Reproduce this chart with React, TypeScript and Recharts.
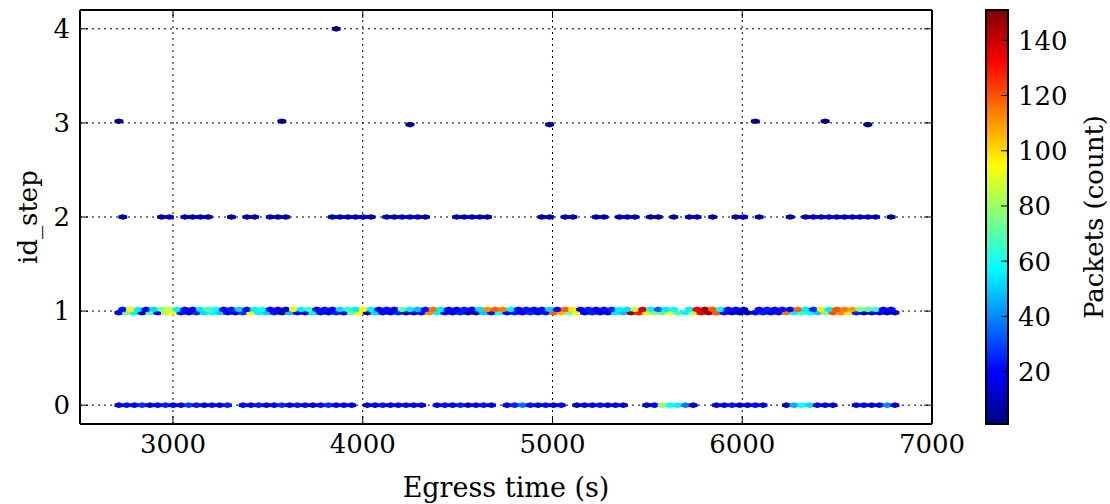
import React from "react";
import { ScatterChart, Scatter, XAxis, YAxis, ReferenceLine } from "recharts";

// hexbin lattice (gridsize 100 over the egress-time range, 57 rows over id_step)
const X_MIN = 2715;
const BIN_W = 40.9;
const BIN_H = 4 / 57;

const X_DOMAIN = [2510, 7000];
const Y_DOMAIN = [-0.2, 4.2];
const X_TICKS = [3000, 4000, 5000, 6000, 7000];
const Y_TICKS = [0, 1, 2, 3, 4];
const CBAR_TICKS = [20, 40, 60, 80, 100, 120, 140];
const C_MIN = 1;
const C_MAX = 151;

// counts per bin, 0 = empty
// id_step 0 (main lattice, row 0)
const step0 = [
  14, 22, 18, 26, 12, 20, 24, 16, 19, 28, 22, 15, 21, 18, 24, 0,
  20, 17, 23, 14, 19, 25, 16, 22, 18, 13, 21, 26, 17, 20, 15, 0,
  12, 18, 22, 16, 20, 14, 19, 17, 0,
  15, 21, 17, 24, 13, 19, 22, 16, 0,
  18, 24, 36, 22, 15, 20, 12, 17, 0,
  10, 14, 19, 22, 16, 18, 13, 0, 0,
  12, 16, 80, 58, 55, 38, 15, 0, 0,
  14, 18, 22, 12, 16, 20, 15, 0, 0,
  10, 45, 58, 52, 20, 16, 14, 0, 0,
  16, 20, 14, 18, 40, 12,
];

// id_step 1, lower half-row (main lattice, row 14)
const step1Low = [
  18, 75, 55, 8, 72, 20, 85, 95, 22, 18,
  25, 52, 58, 50, 20, 16, 28, 96, 55, 50,
  22, 9, 48, 20, 18, 55, 22, 16, 24, 19,
  74, 94, 9, 52, 21, 17, 25, 8, 10, 22,
  112, 56, 20, 18, 24, 9, 8, 50, 22, 60,
  20, 23, 17, 26, 19, 22, 118, 106, 74, 96,
  20, 24, 18, 15, 54, 48, 148, 130, 98, 78,
  70, 94, 68, 56, 86, 136, 146, 120, 22, 9,
  8, 10, 20, 24, 18, 22, 116, 55, 66, 58,
  50, 76, 120, 112, 98, 24, 8, 10, 20, 9,
  11,
];

// id_step 1, upper half-row (offset lattice, row 14)
const step1High = [
  22, 96, 55, 20, 52, 76, 88, 56, 21, 18,
  54, 68, 58, 20, 24, 50, 22, 55, 60, 20,
  17, 10, 97, 55, 66, 20, 23, 18, 52, 64,
  55, 95, 56, 20, 22, 18, 72, 55, 48, 22,
  116, 54, 20, 18, 24, 21, 52, 112, 118, 114,
  56, 20, 23, 18, 22, 50, 20, 118, 98, 20,
  24, 19, 22, 26, 55, 52, 86, 138, 56, 34,
  54, 58, 0, 55, 134, 146, 120, 56, 22, 20,
  9, 0, 20, 24, 18, 22, 20, 118, 55, 26,
  98, 54, 120, 114, 110, 76, 70, 68, 20, 18,
];

// id_step 2 (offset lattice, row 28)
const step2 = [
  6, 0, 0, 0, 0, 8, 10, 0, 9, 7,
  11, 8, 0, 0, 6, 0, 9, 7, 0, 8,
  10, 7, 0, 0, 0, 0, 0, 9, 11, 8,
  10, 12, 7, 0, 8, 10, 9, 12, 8, 7,
  0, 0, 0, 9, 8, 11, 10, 7, 0, 0,
  0, 0, 0, 0, 8, 10, 0, 9, 7, 0,
  0, 8, 9, 0, 10, 12, 8, 0, 9, 7,
  0, 6, 0, 8, 9, 0, 6, 0, 0, 8,
  10, 0, 5, 0, 0, 0, 6, 0, 9, 11,
  10, 13, 12, 9, 11, 10, 12, 8, 0, 6,
];

// sparse bins: [bin, count]
const step3High = [[0, 2], [21, 2], [82, 3], [91, 2]];
const step3Low = [[37, 2], [55, 2], [96, 2]];
const step4 = [[28, 2]];

type Cell = { x: number; y: number; c: number };

function denseCells(counts: number[], row: number, offset: number): Cell[] {
  const out: Cell[] = [];
  counts.forEach((c, i) => {
    if (c > 0) out.push({ x: X_MIN + (i + offset) * BIN_W, y: (row + offset) * BIN_H, c });
  });
  return out;
}

function sparseCells(pairs: number[][], row: number, offset: number): Cell[] {
  return pairs.map(([i, c]) => ({ x: X_MIN + (i + offset) * BIN_W, y: (row + offset) * BIN_H, c }));
}

const cells: Cell[] = [
  ...denseCells(step0, 0, 0),
  ...denseCells(step1Low, 14, 0),
  ...denseCells(step1High, 14, 0.5),
  ...denseCells(step2, 28, 0.5),
  ...sparseCells(step3High, 43, 0),
  ...sparseCells(step3Low, 42, 0.5),
  ...sparseCells(step4, 57, 0),
];

const clamp = (v: number) => Math.max(0, Math.min(1, v));
function jet(t: number) {
  t = clamp(t);
  const r = clamp(Math.min(4 * t - 1.5, -4 * t + 4.5));
  const g = clamp(Math.min(4 * t - 0.5, -4 * t + 3.5));
  const b = clamp(Math.min(4 * t + 0.5, -4 * t + 2.5));
  const h = (v: number) => Math.round(v * 255).toString(16).padStart(2, "0");
  return `#${h(r)}${h(g)}${h(b)}`;
}
const countColor = (c: number) => jet((c - C_MIN) / (C_MAX - C_MIN));

const FONT = "'DejaVu Serif', serif";
const W = 1110;
const H = 504;
const PLOT = { left: 80, right: 932, top: 10, bottom: 424 };
const PX_X = (PLOT.right - PLOT.left) / (X_DOMAIN[1] - X_DOMAIN[0]);
const PX_Y = (PLOT.bottom - PLOT.top) / (Y_DOMAIN[1] - Y_DOMAIN[0]);
const TICK_LEN = 8;

const Hex = (props: any) => {
  const { cx, cy, payload } = props;
  if (cx == null || cy == null) return null;
  const hw = (BIN_W * PX_X) / 2;
  const h1 = (BIN_H / 6) * PX_Y;
  const h2 = (BIN_H / 3) * PX_Y;
  const pts = [
    [hw, -h1], [hw, h1], [0, h2], [-hw, h1], [-hw, -h1], [0, -h2],
  ].map(([dx, dy]) => `${cx + dx},${cy + dy}`).join(" ");
  const col = countColor(payload.c);
  return <polygon points={pts} fill={col} stroke={col} strokeWidth={1.2} />;
};

const tickStyle = { fill: "#000", fontSize: 26, fontFamily: FONT };
const gridStyle = { stroke: "#000", strokeWidth: 1, strokeDasharray: "2 4" };
const frameStyle = { stroke: "#000", strokeWidth: 2, ifOverflow: "visible" as const };
const minorStyle = { stroke: "#000", strokeWidth: 1, ifOverflow: "visible" as const };

function Colorbar() {
  const x = 986, w = 22, top = PLOT.top, bottom = PLOT.bottom;
  const vy = (v: number) => bottom - ((v - C_MIN) / (C_MAX - C_MIN)) * (bottom - top);
  const stops = Array.from({ length: 41 }, (_, i) => i / 40);
  return (
    <svg width={W} height={H} style={{ position: "absolute", left: 0, top: 0, pointerEvents: "none" }}>
      <defs>
        <linearGradient id="jet" x1="0" y1="1" x2="0" y2="0">
          {stops.map((s) => (
            <stop key={s} offset={s} stopColor={jet(s)} />
          ))}
        </linearGradient>
      </defs>
      <rect x={x} y={top} width={w} height={bottom - top} fill="url(#jet)" stroke="#000" strokeWidth={2} />
      {CBAR_TICKS.map((v) => (
        <g key={v}>
          <line x1={x + w - 7} x2={x + w} y1={vy(v)} y2={vy(v)} stroke="#000" strokeWidth={1} />
          <text x={1018} y={vy(v)} dy="0.36em" fontSize={26} fontFamily={FONT} fill="#000">
            {v}
          </text>
        </g>
      ))}
      <text
        x={1103}
        y={217}
        transform="rotate(-90 1103 217)"
        textAnchor="middle"
        fontSize={26}
        fontFamily={FONT}
        fill="#000"
      >
        Packets (count)
      </text>
    </svg>
  );
}

export default function App() {
  const dy = TICK_LEN / PX_Y;
  const dx = TICK_LEN / PX_X;
  return (
    <div style={{ position: "absolute", left: 0, top: 0, width: W, height: H, background: "#fff" }}>
      <ScatterChart
        width={W}
        height={H}
        margin={{ top: PLOT.top, right: W - PLOT.right, bottom: 0, left: 0 }}
      >
        <XAxis
          type="number"
          dataKey="x"
          domain={X_DOMAIN}
          ticks={X_TICKS}
          allowDataOverflow
          height={H - PLOT.bottom}
          axisLine={{ stroke: "#000", strokeWidth: 2 }}
          tickLine={{ stroke: "#000", strokeWidth: 1 }}
          tickSize={-TICK_LEN}
          tickMargin={19}
          tick={tickStyle}
          label={{ value: "Egress time (s)", position: "insideBottom", offset: 7, fill: "#000", fontSize: 27, fontFamily: FONT }}
        />
        <YAxis
          type="number"
          dataKey="y"
          domain={Y_DOMAIN}
          ticks={Y_TICKS}
          allowDataOverflow
          width={PLOT.left}
          axisLine={{ stroke: "#000", strokeWidth: 2 }}
          tickLine={{ stroke: "#000", strokeWidth: 1 }}
          tickSize={-TICK_LEN}
          tickMargin={18}
          tick={tickStyle}
          label={() => (
            <text
              x={37}
              y={217}
              transform="rotate(-90 37 217)"
              textAnchor="middle"
              fontSize={26}
              fontFamily={FONT}
              fill="#000"
            >
              id_step
            </text>
          )}
        />
        <Scatter data={cells} shape={Hex} isAnimationActive={false} />
        {X_TICKS.slice(0, -1).map((v) => (
          <ReferenceLine key={`gx${v}`} x={v} {...gridStyle} />
        ))}
        {Y_TICKS.map((v) => (
          <ReferenceLine key={`gy${v}`} y={v} {...gridStyle} />
        ))}
        {/* top and right spines with inward ticks */}
        <ReferenceLine y={Y_DOMAIN[1]} {...frameStyle} />
        <ReferenceLine x={X_DOMAIN[1]} {...frameStyle} />
        {X_TICKS.map((v) => (
          <ReferenceLine
            key={`tt${v}`}
            segment={[{ x: v, y: Y_DOMAIN[1] }, { x: v, y: Y_DOMAIN[1] - dy }]}
            {...minorStyle}
          />
        ))}
        {Y_TICKS.map((v) => (
          <ReferenceLine
            key={`rt${v}`}
            segment={[{ x: X_DOMAIN[1], y: v }, { x: X_DOMAIN[1] - dx, y: v }]}
            {...minorStyle}
          />
        ))}
      </ScatterChart>
      <Colorbar />
    </div>
  );
}
